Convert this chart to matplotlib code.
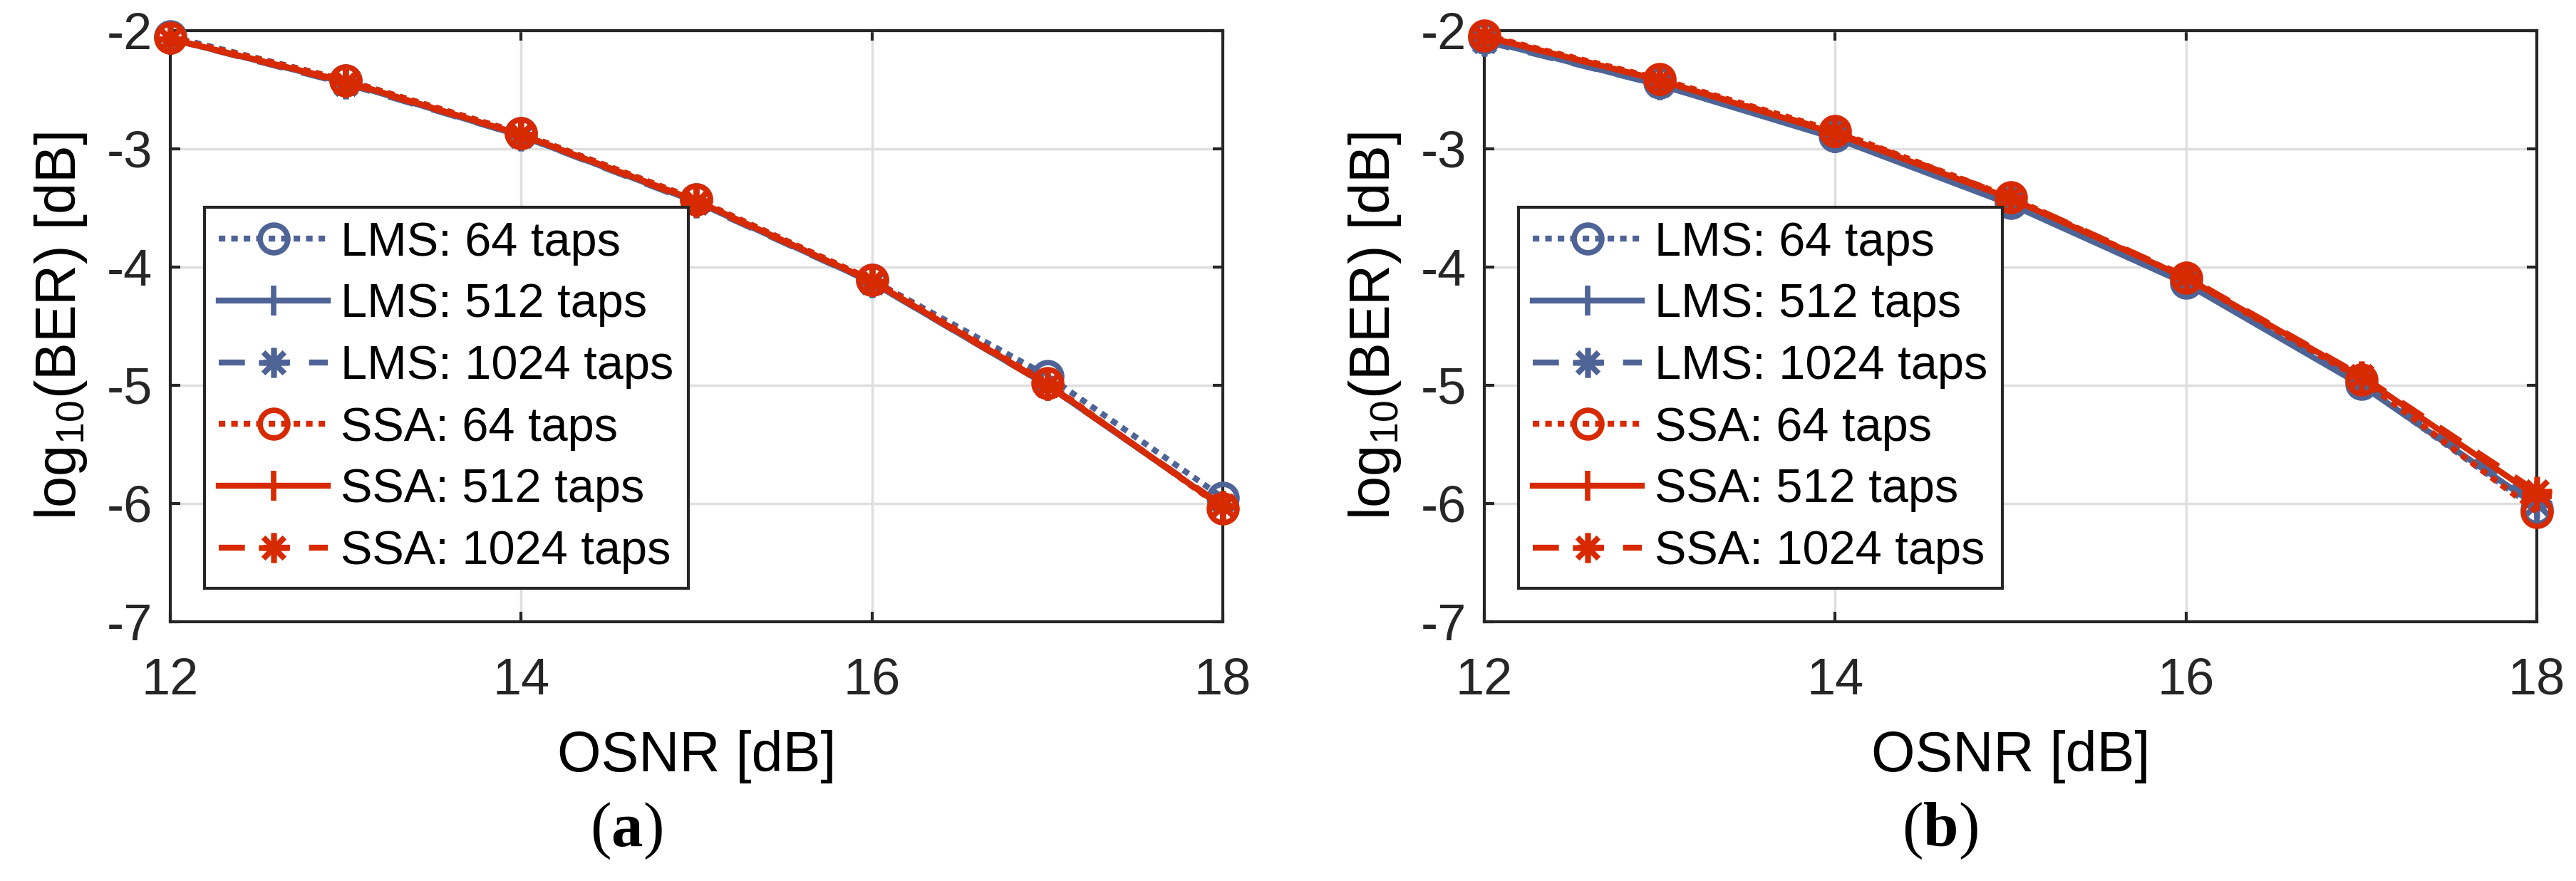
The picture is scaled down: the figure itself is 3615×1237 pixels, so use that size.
import matplotlib
matplotlib.use('Agg')
import matplotlib.pyplot as plt
import numpy as np

plt.rcParams['font.family'] = ['Liberation Sans', 'DejaVu Sans']
plt.rcParams['mathtext.fontset'] = 'custom'
plt.rcParams['mathtext.rm'] = 'Liberation Sans'
plt.rcParams['mathtext.it'] = 'Liberation Sans:italic'
plt.rcParams['mathtext.bf'] = 'Liberation Serif:bold'
plt.rcParams['axes.unicode_minus'] = False

# data
osnr = [12, 13, 14, 15, 16, 17, 18]
labels = ['LMS: 64 taps', 'LMS: 512 taps', 'LMS: 1024 taps',
          'SSA: 64 taps', 'SSA: 512 taps', 'SSA: 1024 taps']

a_lms_64 = [-2.05, -2.42, -2.87, -3.43, -4.11, -4.92, -5.95]
a_lms_512 = [-2.07, -2.44, -2.89, -3.45, -4.13, -5.00, -6.03]
a_lms_1024 = [-2.07, -2.45, -2.89, -3.46, -4.13, -5.00, -6.02]
a_ssa_64 = [-2.06, -2.42, -2.87, -3.43, -4.11, -4.98, -6.04]
a_ssa_512 = [-2.07, -2.43, -2.88, -3.44, -4.12, -4.99, -6.03]
a_ssa_1024 = [-2.07, -2.44, -2.88, -3.45, -4.12, -5.00, -6.02]

b_lms_64 = [-2.06, -2.44, -2.89, -3.46, -4.13, -4.99, -6.05]
b_lms_512 = [-2.08, -2.46, -2.91, -3.47, -4.14, -5.00, -6.02]
b_lms_1024 = [-2.09, -2.46, -2.90, -3.46, -4.13, -4.98, -6.00]
b_ssa_64 = [-2.04, -2.41, -2.85, -3.41, -4.09, -4.95, -6.07]
b_ssa_512 = [-2.05, -2.42, -2.87, -3.42, -4.09, -4.93, -5.94]
b_ssa_1024 = [-2.05, -2.42, -2.86, -3.41, -4.08, -4.92, -5.90]

xticks = [12, 14, 16, 18]
yticks = [-7, -6, -5, -4, -3, -2]

blue = '#4F6496'
red = '#D82A00'
dark = '#262626'
dotted = (0, (1.1, 1.0))
dashed = (0, (4.4, 3.2))
star8 = (8, 2, 0)

styles = [(blue, dotted, 'o'), (blue, '-', '+'), (blue, dashed, star8),
          (red, dotted, 'o'), (red, '-', '+'), (red, dashed, star8)]

fig = plt.figure(figsize=(36.15, 12.37), dpi=100)


def panel(left, series, tag):
    ax = fig.add_axes([left, 0.2943, 0.4086, 0.6710])
    for ys, lab, (c, ls, mk) in zip(series, labels, styles):
        ms = 28 if mk == 'o' else 30
        ax.plot(osnr, ys, color=c, linestyle=ls, linewidth=6, marker=mk,
                markersize=ms, markeredgewidth=5.5, markerfacecolor='none',
                markeredgecolor=c, label=lab, clip_on=False, zorder=3)
    ax.set_xlim(12, 18)
    ax.set_ylim(-7, -2)
    ax.set_xticks(xticks)
    ax.set_yticks(yticks)
    ax.grid(True, color='#DFDFDF', linewidth=2.5)
    ax.set_axisbelow(True)
    for s in ax.spines.values():
        s.set_linewidth(3)
        s.set_color(dark)
    ax.tick_params(axis='both', direction='in', length=10, width=3,
                   color=dark, labelcolor=dark, labelsize=52,
                   top=True, right=True)
    ax.tick_params(axis='x', pad=36)
    ax.tick_params(axis='y', pad=18)
    ax.set_xlabel('OSNR [dB]', fontsize=57)
    ax.xaxis.set_label_coords(0.5, -0.183)
    ax.set_ylabel(r'log$_{10}$(BER) [dB]', fontsize=57)
    ax.yaxis.set_label_coords(-0.0772, 0.5)
    leg = ax.legend(loc='lower left', bbox_to_anchor=(0.0325, 0.0566),
                    fontsize=48, borderaxespad=0, borderpad=0.3,
                    labelspacing=0.37, handlelength=2.3, handletextpad=0.27,
                    fancybox=False, framealpha=1, edgecolor=dark)
    leg.get_frame().set_linewidth(3)
    ax.text(0.433, -0.38, '(' + r'$\mathbf{' + tag + '}$' + ')',
            transform=ax.transAxes, ha='center', va='baseline',
            fontsize=64, family='Liberation Serif')
    return ax


panel(0.0661, [a_lms_64, a_lms_512, a_lms_1024, a_ssa_64, a_ssa_512, a_ssa_1024], 'a')
panel(0.5762, [b_lms_64, b_lms_512, b_lms_1024, b_ssa_64, b_ssa_512, b_ssa_1024], 'b')

fig.savefig('out.png', dpi=100)
